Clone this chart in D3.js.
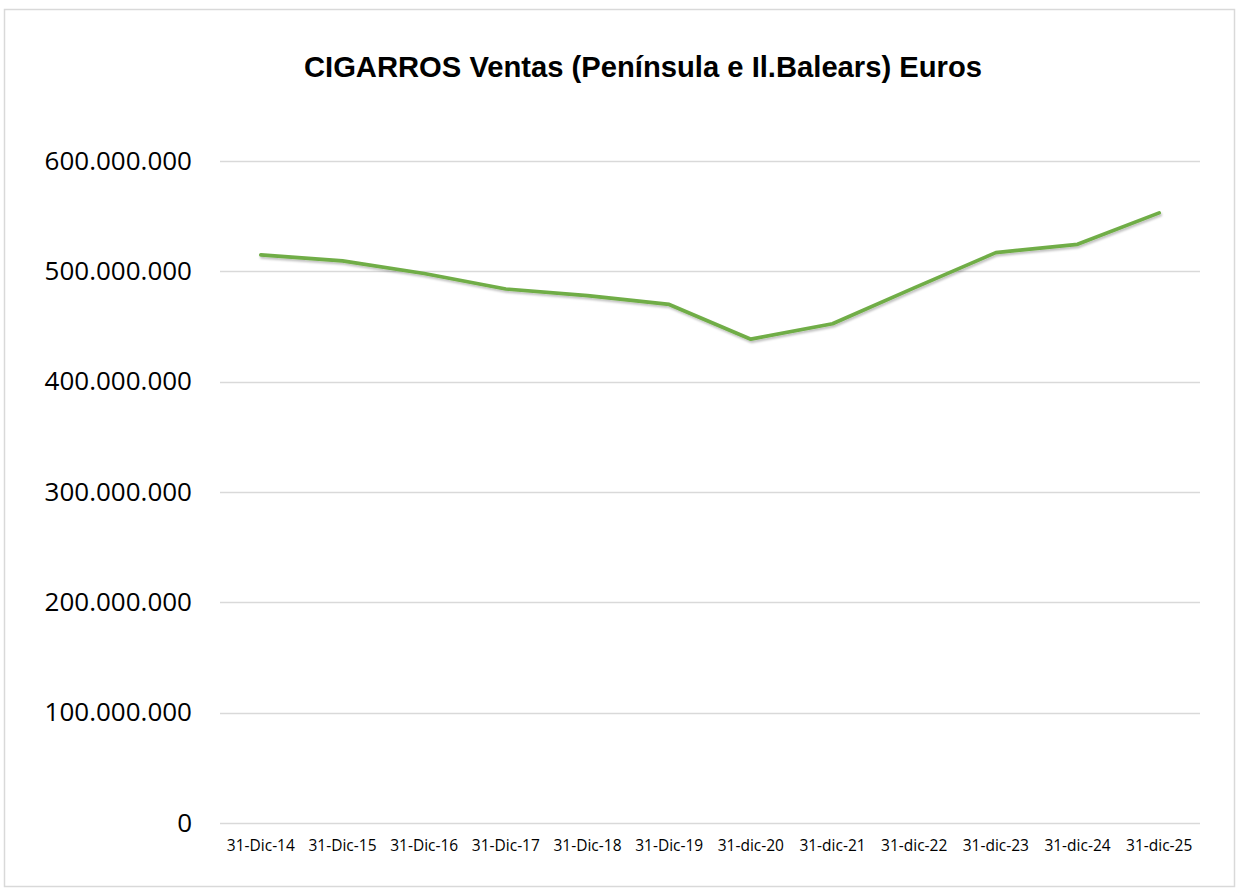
<!DOCTYPE html>
<html><head><meta charset="utf-8">
<script src="https://cdn.jsdelivr.net/npm/d3@7"></script>
<style>body{margin:0;background:#fff}svg{display:block}</style>
</head><body>
<script>
const categories = ["31-Dic-14","31-Dic-15","31-Dic-16","31-Dic-17","31-Dic-18","31-Dic-19","31-dic-20","31-dic-21","31-dic-22","31-dic-23","31-dic-24","31-dic-25"];
const values = [515000000, 509500000, 498000000, 484000000, 478000000, 470000000, 438500000, 452500000, 485000000, 517000000, 524500000, 553000000];
const yTicks = [0, 100000000, 200000000, 300000000, 400000000, 500000000, 600000000];
const title = "CIGARROS Ventas (Península e Il.Balears) Euros";

const W = 1238, H = 891;
const svg = d3.select("body").append("svg").attr("width", W).attr("height", H);
svg.append("rect").attr("x", 4.5).attr("y", 9.5).attr("width", 1230).attr("height", 877)
  .attr("fill", "#fff").attr("stroke", "#d9d9d9").attr("stroke-width", 1.5);

const defs = svg.append("defs");
const f = defs.append("filter").attr("id","sh").attr("x","-5%").attr("y","-20%").attr("width","110%").attr("height","140%");
f.append("feDropShadow").attr("dx",1).attr("dy",2).attr("stdDeviation",1.2).attr("flood-color","#000").attr("flood-opacity",0.25);

const x = d3.scaleBand().domain(categories).range([220, 1200]);
const y = d3.scaleLinear().domain([0, 600000000]).range([823, 161]);

svg.append("text").attr("x", 643).attr("y", 77).attr("text-anchor","middle")
  .attr("font-family","Liberation Sans, Arial, sans-serif").attr("font-weight","bold")
  .attr("font-size", 29.2).attr("fill","#000").text(title);

// grid
svg.append("g").selectAll("line").data(yTicks).join("line")
  .attr("x1", 220).attr("x2", 1200)
  .attr("y1", d => Math.round(y(d)) + 0.5).attr("y2", d => Math.round(y(d)) + 0.5)
  .attr("stroke", "#d9d9d9").attr("stroke-width", 1.3);

const fmt = d => d === 0 ? "0" : d3.format(",")(d).replace(/,/g, ".");
const yAxis = d3.axisLeft(y).tickValues(yTicks).tickFormat(fmt).tickSize(0).tickPadding(28);
const ga = svg.append("g").attr("transform", "translate(220,0)").call(yAxis);
ga.select(".domain").remove();
ga.selectAll("text").attr("font-family","Open Sans, sans-serif").attr("font-size", 26).attr("fill","#000");

const xAxis = d3.axisBottom(x).tickSize(0).tickPadding(17);
const gx = svg.append("g").attr("transform", "translate(0,823)").call(xAxis);
gx.select(".domain").remove();
gx.selectAll("text").attr("font-family","Open Sans, sans-serif").attr("font-size", 15.5).attr("fill","#000");

const line = d3.line().x((d,i) => x(categories[i]) + x.bandwidth()/2).y(d => y(d));
svg.append("path").datum(values).attr("d", line).attr("fill","none")
  .attr("stroke","#70AD47").attr("stroke-width", 3.7).attr("stroke-linejoin","round").attr("stroke-linecap","round")
  .attr("filter","url(#sh)");
</script>
</body></html>
